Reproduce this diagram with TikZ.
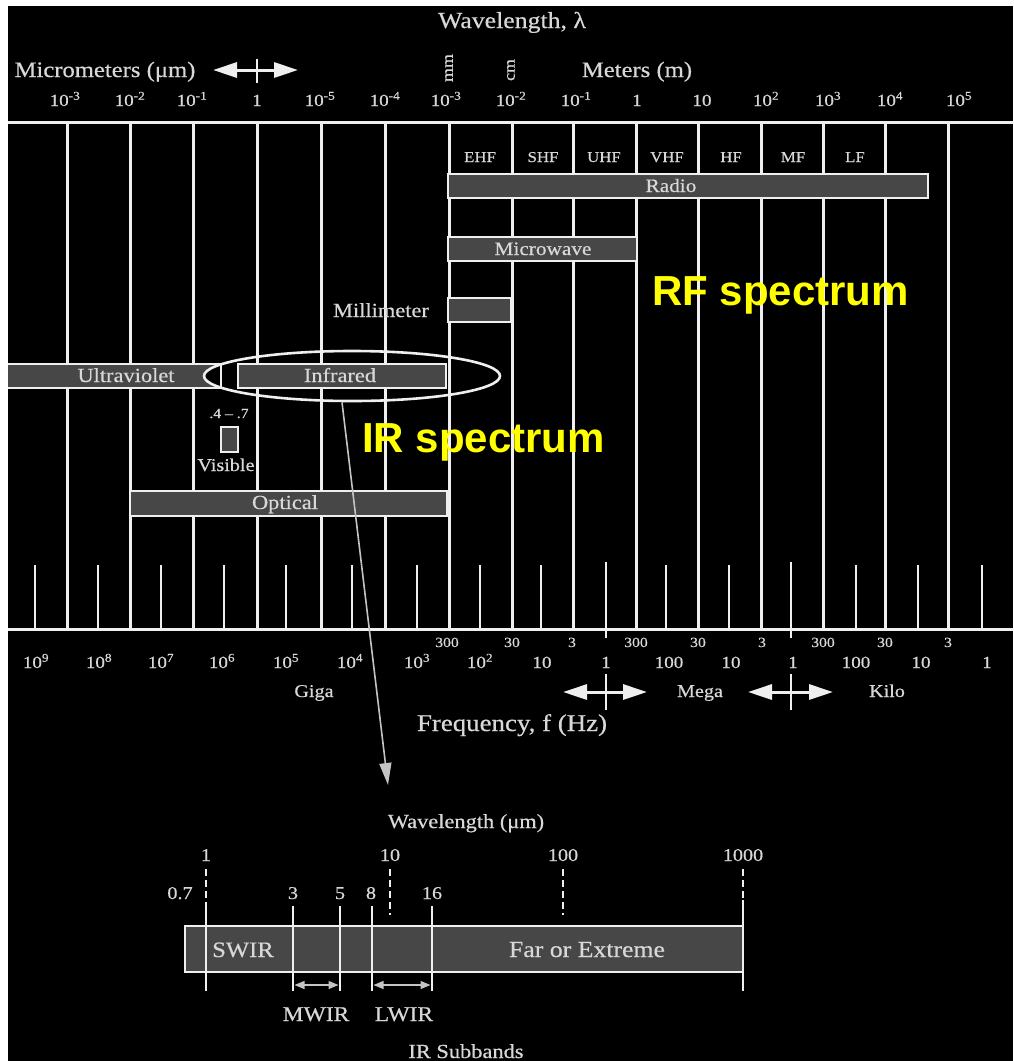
\documentclass[tikz,border=0pt]{standalone}
\usepackage{fontspec}
\setmainfont[FakeStretch=1.12,FakeBold=0.5]{Liberation Serif}
\newfontfamily\yfont{Liberation Sans}
\usetikzlibrary{arrows.meta,shapes.geometric}
\definecolor{txt}{HTML}{D8D8D8}
\definecolor{barfill}{HTML}{474747}
\definecolor{ln}{HTML}{EFEFEF}
\definecolor{ylw}{HTML}{FFFF00}
\definecolor{arrg}{HTML}{C4C4C4}
\newcommand{\fsz}[1]{\fontsize{#1}{#1}\selectfont}
\begin{document}
\begin{tikzpicture}[x=1pt,y=-1pt,
  grid/.style={draw=ln,line width=3pt},
  tickmk/.style={draw=ln,line width=2.6pt},
  bar/.style={rectangle,draw=ln,line width=2.6pt,fill=barfill,inner sep=0pt},
  lab/.style={text=txt,inner sep=0pt,anchor=base},
  dbl/.style={draw=ln,line width=3pt,{Triangle[length=24pt,width=15pt]}-{Triangle[length=24pt,width=15pt]}},
  sub/.style={draw=ln,line width=2.2pt},
  dsh/.style={draw=ln,line width=2.6pt,dash pattern=on 7pt off 4pt},
  sarr/.style={draw=arrg,line width=1.2pt,{Triangle[length=10pt,width=8pt]}-{Triangle[length=10pt,width=8pt]}}
]
\useasboundingbox (0,0) rectangle (1013,1061);
\fill[white] (0,0) rectangle (1013,1061);
\fill[black] (8,6) rectangle (1013,1061);

% grid
\foreach \x in {67,130,193,257,321,385,449,512,573,636,698,761,823,885,948}
  \draw[grid] (\x,122) -- (\x,629);
\draw[grid] (8,122) -- (1013,122);
\draw[grid] (8,629) -- (1013,629);
\foreach \x in {35,98,161,224,286,352,417,480,541,666,729,856,918,982}
  \draw[tickmk] (\x,565) -- (\x,629);
\draw[tickmk] (606,562) -- (606,638);
\draw[tickmk] (791,562) -- (791,638);

% bars
\node[bar,minimum width=480,minimum height=24] (radio) at (688,186) {};
\node[bar,minimum width=189,minimum height=24] (micro) at (542.5,249) {};
\node[bar,minimum width=63,minimum height=24] (milli) at (479.5,310) {};
\node[bar,minimum width=241,minimum height=24] (uv) at (100.5,376) {};
\node[bar,minimum width=208,minimum height=24] (ir) at (342,376) {};
\node[bar,minimum width=317,minimum height=25] (opt) at (288.5,503.5) {};
\node[bar,minimum width=17,minimum height=25,line width=2.4pt] (vis) at (229.5,439.5) {};
% white margin at the left
\fill[white] (0,0) rectangle (8,1061);

% ellipse round the infrared band
\begin{scope}
  \clip (352,376) ellipse [x radius=148pt, y radius=25pt];
  \fill[black] (190,358) rectangle (219.6,394);
\end{scope}
\node[ellipse,draw=ln,line width=2.6pt,minimum width=296,minimum height=50,inner sep=0pt] (irell) at (352,376) {};

% top labels
\node[lab,font=\fsz{23}] (title) at (512,28) {Wavelength, λ};
\node[lab,font=\fsz{22}] (um) at (105,77) {Micrometers (μm)};
\node[lab,font=\fsz{22}] (mt) at (637,77) {Meters (m)};
\node[text=txt,font=\fsz{16},rotate=90,inner sep=0pt] (mm) at (449,68) {mm};
\node[text=txt,font=\fsz{16},rotate=90,inner sep=0pt] (cm) at (511,70) {cm};
\coordinate (ua1) at (213,70);
\coordinate (ua2) at (298,70);
\draw[dbl] (ua1) -- (ua2);
\draw[draw=ln,line width=2.5pt] (257,59) -- (257,83);

\foreach \x/\t [count=\i] in {65/{10\textsuperscript{-3}},130/{10\textsuperscript{-2}},192/{10\textsuperscript{-1}},257/1,320/{10\textsuperscript{-5}},385/{10\textsuperscript{-4}},446/{10\textsuperscript{-3}},511/{10\textsuperscript{-2}},576/{10\textsuperscript{-1}},637/1,702/10,766/{10\textsuperscript{2}},828/{10\textsuperscript{3}},890/{10\textsuperscript{4}},959/{10\textsuperscript{5}}}
  \node[lab,font=\fsz{17}] (wl\i) at (\x,106) {\t};

\foreach \x/\t [count=\i] in {480/EHF,543/SHF,604/UHF,667/VHF,731/HF,793/MF,855/LF}
  \node[lab,font=\fsz{15}] (band\i) at (\x,162) {\t};

% bar labels
\node[lab,font=\fsz{19}] (radiot) at (671,192) {Radio};
\node[lab,font=\fsz{19}] (microt) at (543,255) {Microwave};
\node[lab,font=\fsz{20}] (millit) at (381,317) {Millimeter};
\node[lab,font=\fsz{20}] (uvt) at (126,382) {Ultraviolet};
\node[lab,font=\fsz{20}] (irt) at (340,382) {Infrared};
\node[lab,font=\fsz{14}] (vist1) at (229,418) {.4 – .7};
\node[lab,font=\fsz{18}] (vist2) at (226,471) {Visible};
\node[lab,font=\fsz{20}] (optt) at (285,509) {Optical};

% frequency labels
\foreach \x/\t [count=\i] in {447/300,512/30,572/3,636/300,698/30,762/3,823/300,885/30,948/3}
  \node[lab,font=\fsz{14}] (fs\i) at (\x,647) {\t};
\foreach \x/\t [count=\i] in {36/{10\textsuperscript{9}},99/{10\textsuperscript{8}},161/{10\textsuperscript{7}},222/{10\textsuperscript{6}},286/{10\textsuperscript{5}},350/{10\textsuperscript{4}},417/{10\textsuperscript{3}},480/{10\textsuperscript{2}},542/10,606/1,669/100,731/10,793/1,856/100,921/10,987/1}
  \node[lab,font=\fsz{17}] (fq\i) at (\x,668) {\t};
\node[lab,font=\fsz{18}] (giga) at (314,697) {Giga};
\node[lab,font=\fsz{18}] (mega) at (700,697) {Mega};
\node[lab,font=\fsz{18}] (kilo) at (887,697) {Kilo};
\draw[dbl] (563,692) -- (647,692);
\draw[draw=ln,line width=2.5pt] (606,674) -- (606,710);
\draw[dbl] (748,692) -- (833,692);
\draw[draw=ln,line width=2.5pt] (791,674) -- (791,710);
\node[lab,font=\fsz{24}] (freq) at (512,731) {Frequency, f (Hz)};

% connector to the IR subbands
\coordinate (subtop) at (388,785);
\draw[draw=arrg,line width=1.6pt,-{Triangle[length=22pt,width=12pt,fill=arrg]}] ([xshift=-10pt]irell.south) -- (subtop);

% IR subbands
\node[lab,font=\fsz{20}] (wlum) at (466,828) {Wavelength (μm)};
\foreach \x/\t [count=\i] in {206/1,390/10,563/100,743/1000}
  \node[lab,font=\fsz{18}] (dec\i) at (\x,861) {\t};
\node[bar,minimum width=558,minimum height=46,line width=2.2pt] (irbox) at (464,949) {};
\draw[dsh] (206,869) -- (206,905);
\draw[sub] (206,905) -- (206,991);
\draw[dsh] (390,869) -- (390,915);
\draw[dsh] (563,869) -- (563,915);
\draw[dsh] (743,869) -- (743,900);
\draw[sub] (743,900) -- (743,991);
\foreach \x in {293,340,372,432}
  \draw[sub] (\x,906) -- (\x,991);
\node[lab,font=\fsz{18}] (b07) at (180,899) {0.7};
\node[lab,font=\fsz{18}] (b3) at (293,899) {3};
\node[lab,font=\fsz{18}] (b5) at (340,899) {5};
\node[lab,font=\fsz{18}] (b8) at (371,899) {8};
\node[lab,font=\fsz{18}] (b16) at (432,899) {16};
\node[lab,font=\fsz{22}] (swir) at (243,957) {SWIR};
\node[lab,font=\fsz{23}] (far) at (587,957) {Far or Extreme};
\coordinate (m1) at (294.5,985); \coordinate (m2) at (338.5,985);
\coordinate (l1) at (373.5,985); \coordinate (l2) at (430.5,985);
\draw[sarr] (m1) -- (m2);
\draw[sarr] (l1) -- (l2);
\node[lab,font=\fsz{21}] (mwir) at (316,1021) {MWIR};
\node[lab,font=\fsz{21}] (lwir) at (404,1021) {LWIR};
\node[lab,font=\fsz{20}] (irsb) at (466,1058) {IR Subbands};

% yellow annotations
\node[anchor=base west,inner sep=0pt,text=ylw,font=\yfont\bfseries\fsz{42}] (rfs) at (652,305) {RF spectrum};
\node[anchor=base west,inner sep=0pt,text=ylw,font=\yfont\bfseries\fsz{42}] (irs) at (362,452) {IR spectrum};
\end{tikzpicture}
\end{document}
